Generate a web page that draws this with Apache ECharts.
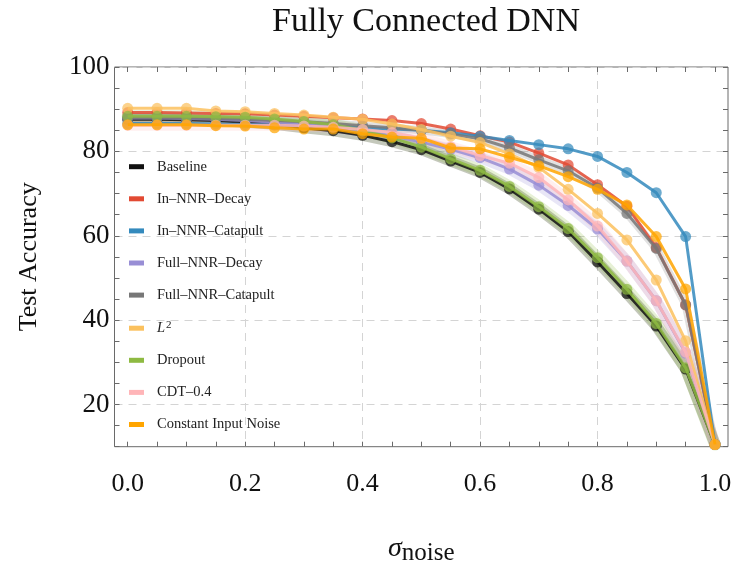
<!DOCTYPE html>
<html>
<head>
<meta charset="utf-8">
<script src="https://cdn.jsdelivr.net/npm/echarts@6/dist/echarts.min.js"></script>
<style>html,body{margin:0;padding:0;background:#fff}#c{width:734px;height:567px}</style>
</head>
<body>
<div id="c"></div>
<script>
// ---- data ----
const sigma = [0, 0.05, 0.1, 0.15, 0.2, 0.25, 0.3, 0.35, 0.4, 0.45, 0.5, 0.55, 0.6, 0.65, 0.7, 0.75, 0.8, 0.85, 0.9, 0.95, 1.0];
const baseline      = [87.6,87.6,87.5,87.3,86.9,86.4,85.6,84.9,83.8,82.3,80.4,77.7,75.0,71.1,66.3,61.0,53.8,46.3,38.6,28.4,10.5];
const inNnrDecay    = [89.2,89.2,89.1,89.0,88.9,88.6,88.3,88.0,87.7,87.3,86.6,85.3,83.7,82.2,79.6,76.8,72.1,67.0,57.2,43.6,10.5];
const inNnrCatapult = [86.6,86.6,86.6,86.5,86.4,86.3,86.1,85.9,85.6,85.3,85.0,84.4,83.6,82.6,81.6,80.6,78.8,75.0,70.2,59.8,10.5];
const fullNnrDecay  = [87.9,87.9,87.8,87.6,87.3,86.9,86.4,85.7,84.8,83.7,82.2,80.5,78.5,75.8,72.0,67.2,61.6,54.0,44.6,32.2,10.5];
const fullNnrCatapult=[88.0,88.0,87.9,87.8,87.6,87.3,87.0,86.6,86.1,85.6,85.0,84.1,83.0,80.8,78.0,75.4,71.3,65.3,57.0,43.6,10.5];
const l2            = [90.2,90.2,90.2,89.6,89.4,89.0,88.6,88.1,87.6,86.5,85.2,83.6,82.1,79.4,76.2,71.0,65.3,59.0,49.5,35.1,10.5];
const dropout       = [88.3,88.3,88.3,88.2,88.1,87.7,87.1,86.3,85.0,83.2,81.0,78.2,75.5,71.7,66.9,61.7,54.8,47.3,39.2,28.7,10.5];
const cdt04         = [86.2,86.2,86.2,86.2,86.2,86.2,86.0,85.7,85.2,84.5,83.1,81.1,79.0,77.2,73.8,68.5,62.3,54.0,44.6,32.4,10.5];
const constNoise    = [86.3,86.3,86.3,86.1,86.0,85.6,85.3,85.3,84.2,83.4,83.1,80.8,80.6,78.6,76.6,74.0,71.0,67.3,59.8,47.4,10.5];

const seriesNames = ['Baseline','In–NNR–Decay','In–NNR–Catapult','Full–NNR–Decay','Full–NNR–Catapult','L²','Dropout','CDT–0.4','Constant Input Noise'];
const seriesValues = [baseline, inNnrDecay, inNnrCatapult, fullNnrDecay, fullNnrCatapult, l2, dropout, cdt04, constNoise];
const colors = ['#111111','#E24A33','#348ABD','#988ED5','#777777','#FBC15E','#8EBA42','#FFB5B8','#FFA500'];
const bandWidths = [11, 0, 0, 11, 8, 0, 12, 11, 0];

const yTickLabels = [20, 40, 60, 80, 100];
const xTickLabels = [0.0, 0.2, 0.4, 0.6, 0.8, 1.0];

// ---- chart ----
const FONT = 'Liberation Serif';
const chart = echarts.init(document.getElementById('c'), null, {renderer: 'canvas'});
const pairs = v => sigma.map((x, i) => [x, v[i]]);

const ySplitColors = ['rgba(0,0,0,0)','rgba(0,0,0,0)','#d4d4d4','rgba(0,0,0,0)'];
const xSplitColors = sigma.map(x => (xTickLabels.some(t => Math.abs(t - x) < 1e-9) && x > 0 && x < 1) ? '#d4d4d4' : 'rgba(0,0,0,0)');

const series = [];
seriesValues.forEach((v, i) => {
  if (bandWidths[i] > 0) {
    series.push({
      name: seriesNames[i] + ' band', type: 'line', xAxisIndex: 1, yAxisIndex: 2,
      data: pairs(v), symbol: 'none', silent: true, z: 1,
      lineStyle: {color: i === 0 ? '#3d4a1e' : colors[i], width: bandWidths[i], opacity: i === 0 ? 0.3 : 0.22, cap: 'round', join: 'round'},
      animation: false
    });
  }
});
seriesValues.forEach((v, i) => {
  series.push({
    name: seriesNames[i], type: 'line', xAxisIndex: 1, yAxisIndex: 2,
    data: pairs(v), symbol: 'circle', symbolSize: 11, z: 3 + i,
    lineStyle: {color: colors[i], width: 3, opacity: 0.85},
    itemStyle: {color: colors[i], opacity: 0.72},
    animation: false
  });
});

const tickStyle = {show: true, inside: true, length: 5, lineStyle: {color: '#6a6a6a', width: 1}};

chart.setOption({
  animation: false,
  backgroundColor: '#fff',
  title: {
    text: 'Fully Connected DNN', left: 421, top: 0, textAlign: 'center',
    textStyle: {fontFamily: FONT, fontSize: 34, fontWeight: 'normal', color: '#111'}
  },
  legend: {
    orient: 'vertical', left: 129, top: 158.7, padding: 0,
    itemWidth: 15, itemHeight: 5, itemGap: 16.1, icon: 'rect',
    selectedMode: false,
    data: seriesNames.map((n, i) => ({name: n, icon: 'rect', itemStyle: {color: colors[i], opacity: 1}})),
    formatter: n => n === 'L²' ? '{i|L}{s|2}' : n,
    textStyle: {
      fontFamily: FONT, fontSize: 14.5, color: '#222', lineHeight: 16, padding: [0, 0, 0, 8],
      rich: {
        i: {fontFamily: FONT, fontSize: 14.5, fontStyle: 'italic', color: '#222'},
        s: {fontFamily: FONT, fontSize: 11, color: '#222', padding: [0, 0, 7, 1]}
      }
    }
  },
  grid: [
    {left: 114.5, right: 6, top: 67, bottom: 120.3, show: true, borderColor: '#6a6a6a', borderWidth: 1, backgroundColor: 'transparent', outerBoundsMode: 'none', containLabel: false},
    {left: 127.7, right: 19, top: 67, bottom: 120.3, show: false, outerBoundsMode: 'none', containLabel: false}
  ],
  xAxis: [
    {gridIndex: 0, type: 'value', min: 0, max: 1, show: false},
    {
      gridIndex: 1, type: 'value', min: 0, max: 1, interval: 0.05, position: 'bottom',
      axisLine: {show: false}, axisTick: tickStyle,
      axisLabel: {
        margin: 24, fontFamily: FONT, fontSize: 26, color: '#111',
        formatter: v => xTickLabels.some(t => Math.abs(t - v) < 1e-9) ? v.toFixed(1) : ''
      },
      splitLine: {show: true, lineStyle: {color: xSplitColors, type: [8, 6], width: 1}},
      name: '{s|σ}{sub|noise}', nameLocation: 'middle', nameGap: 84,
      nameTextStyle: {
        rich: {
          s: {fontFamily: FONT, fontSize: 28, fontStyle: 'italic', color: '#111'},
          sub: {fontFamily: FONT, fontSize: 25, color: '#111', padding: [10, 0, 0, 0]}
        }
      }
    },
    {
      gridIndex: 1, type: 'value', min: 0, max: 1, interval: 0.05, position: 'top',
      axisLine: {show: false}, axisTick: tickStyle, axisLabel: {show: false}, splitLine: {show: false}
    }
  ],
  yAxis: [
    {
      gridIndex: 0, type: 'value', min: 10, max: 100, interval: 5, position: 'left',
      axisLine: {show: false}, axisTick: tickStyle,
      axisLabel: {
        margin: 5, fontFamily: FONT, fontSize: 27, color: '#111',
        formatter: v => yTickLabels.indexOf(v) >= 0 ? String(v) : ''
      },
      splitLine: {show: true, lineStyle: {color: ySplitColors, type: [8, 6], width: 1}},
      name: 'Test Accuracy', nameLocation: 'middle', nameGap: 72, nameRotate: 90,
      nameTextStyle: {fontFamily: FONT, fontSize: 26, color: '#111'}
    },
    {
      gridIndex: 0, type: 'value', min: 10, max: 100, interval: 5, position: 'right',
      axisLine: {show: false}, axisTick: tickStyle, axisLabel: {show: false}, splitLine: {show: false}
    },
    {gridIndex: 1, type: 'value', min: 10, max: 100, show: false}
  ],
  series: series
});
</script>
</body>
</html>
